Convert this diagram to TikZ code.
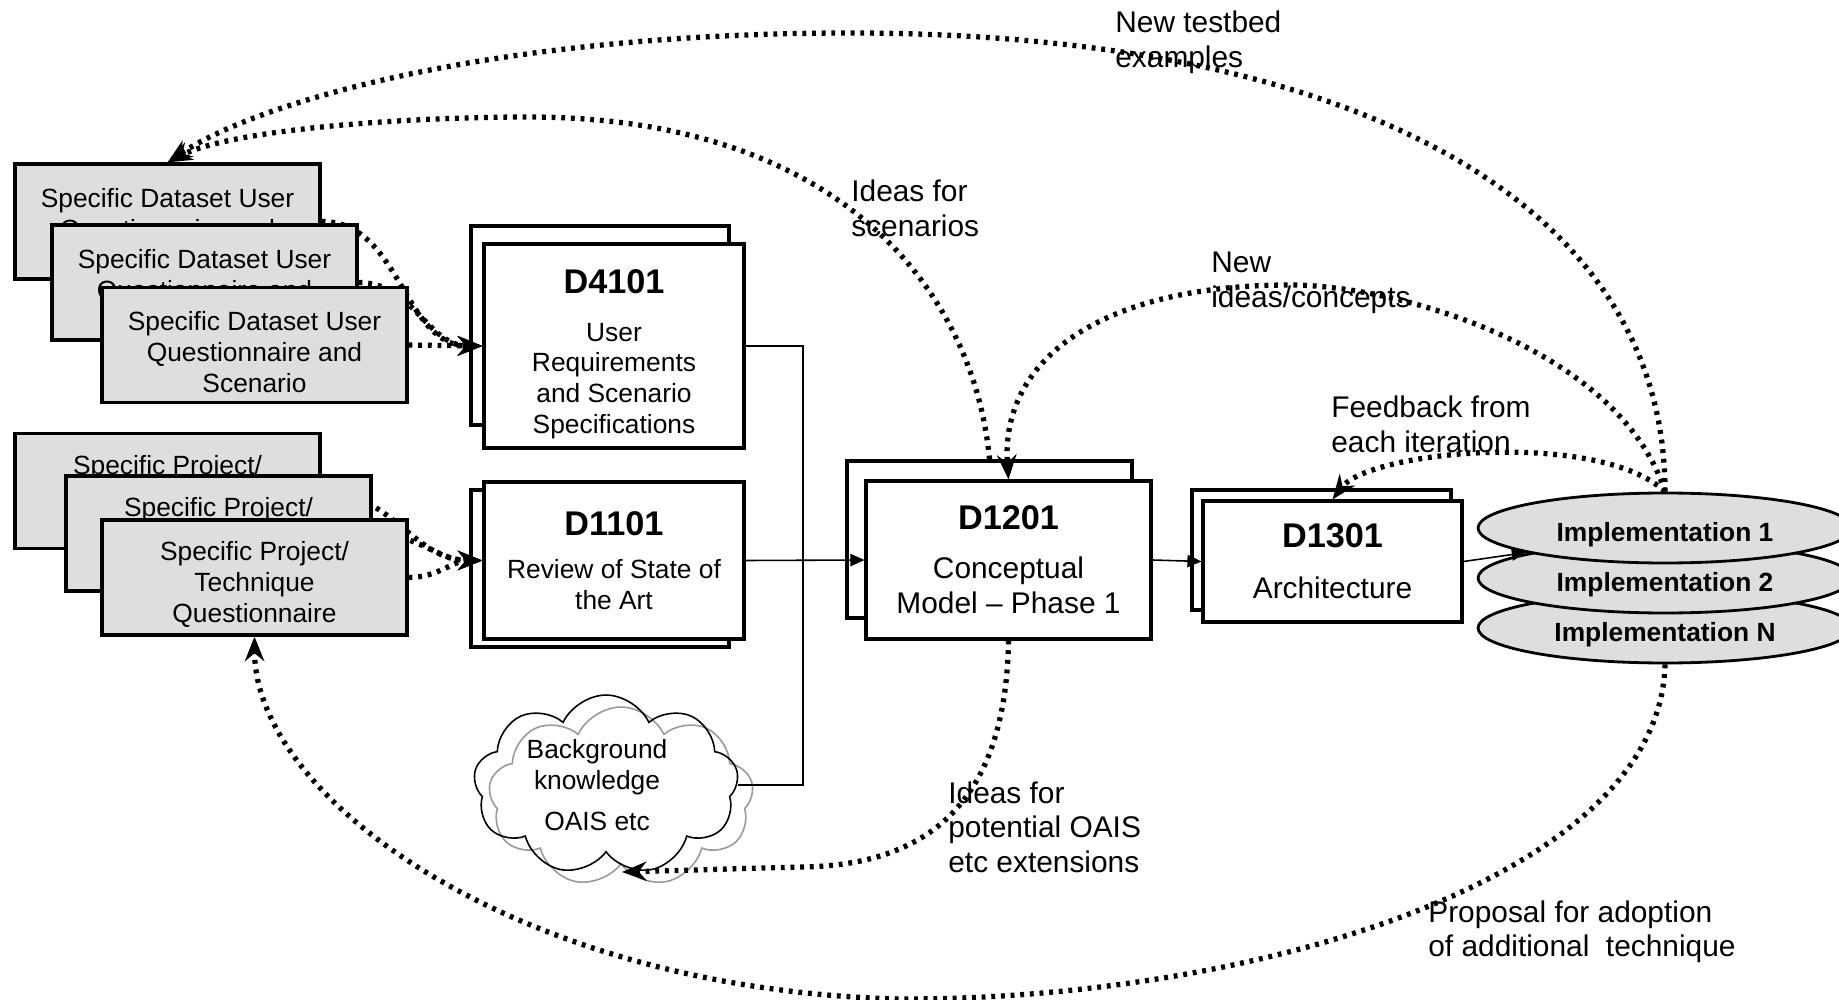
\documentclass[tikz,border=0pt]{standalone}
\usepackage{fontspec}
\setmainfont{Liberation Sans}
\usetikzlibrary{arrows.meta,shapes.geometric,shapes.symbols}

\definecolor{boxgray}{gray}{0.87}
\newcommand{\dtitle}[1]{{\fontsize{19.5}{22}\selectfont\bfseries #1}}
% tall invisible strut, pushes a node's text a little down
\newcommand{\topstrut}[1]{\rule{0pt}{#1}}

\tikzset{
  qbox/.style={draw, line width=1.8pt, fill=boxgray, minimum width=6.1cm, minimum height=2.3cm,
    inner sep=0pt, align=center, font=\fontsize{15}{17.5}\selectfont},
  dbox/.style={draw, line width=1.8pt, fill=white, inner sep=0pt, align=center,
    font=\fontsize{15}{17.5}\selectfont},
  impl/.style={ellipse, draw, line width=1.6pt, fill=boxgray, minimum width=7.48cm,
    minimum height=1.4cm, inner sep=0pt, font=\fontsize{15}{18}\selectfont\bfseries},
  puff/.style={cloud, cloud puffs=9, cloud puff arc=130, cloud ignores aspect, minimum width=5.3cm,
    minimum height=3.6cm, line width=0.9pt, inner sep=0pt},
  feed/.style={line width=3pt, dash pattern=on 2.2pt off 3.3pt, -{Stealth[length=14pt,width=11pt]}},
  link/.style={line width=0.9pt},
  flow/.style={link, -{Triangle[length=8pt,width=7pt]}},
  note/.style={anchor=north west, align=left, inner sep=0pt, font=\fontsize{17}{19.7}\selectfont}
}

\begin{document}
\begin{tikzpicture}[x=0.02cm, y=-0.02cm]
  \useasboundingbox (0,0) rectangle (1839,1000);

  % deliverables, each with a copy behind it
  \node[dbox, minimum width=5.16cm, minimum height=3.98cm] (d4101back) at (600,325.5) {};
  \node[dbox, minimum width=5.2cm, minimum height=4.08cm] (d4101) at (614,346)
    {\topstrut{23pt}\dtitle{D4101}\\[9.5pt]User\\Requirements\\and Scenario\\Specifications};
  \node[dbox, minimum width=5.16cm, minimum height=3.14cm] (d1101back) at (600,568.5) {};
  \node[dbox, minimum width=5.2cm, minimum height=3.14cm] (d1101) at (614,560.5)
    {\dtitle{D1101}\\[7pt]Review of State of\\the Art};
  \node[dbox, minimum width=5.7cm, minimum height=3.14cm] (d1201back) at (989.5,539.5) {};
  \node[dbox, minimum width=5.7cm, minimum height=3.16cm, font=\fontsize{17}{20}\selectfont] (d1201) at (1008.5,560)
    {\dtitle{D1201}\\[8pt]Conceptual\\Model -- Phase 1};
  \node[dbox, minimum width=5.18cm, minimum height=2.4cm] (d1301back) at (1321.5,550) {};
  \node[dbox, minimum width=5.18cm, minimum height=2.42cm, font=\fontsize{17}{20}\selectfont] (d1301) at (1332.5,561.5)
    {\dtitle{D1301}\\[9pt]Architecture};

  % questionnaire stacks: every box hides the feed of the one behind it
  \node[qbox] (ds1) at (167.5,221.5) {\topstrut{19pt}Specific Dataset User\\Questionnaire and\\Scenario};
  \draw[feed] (ds1.east) to[out=0,in=180] (d4101.west);
  \node[qbox] (ds2) at (204.5,282.5) {\topstrut{19pt}Specific Dataset User\\Questionnaire and\\Scenario};
  \draw[feed] (ds2.east) to[out=0,in=180] (d4101.west);
  \node[qbox] (ds3) at (254.5,345) {\topstrut{19pt}Specific Dataset User\\Questionnaire and\\Scenario};
  \draw[feed] (ds3.east) -- (d4101.west);

  \node[qbox] (pr1) at (167.5,491) {\topstrut{19pt}Specific Project/\\Technique\\Questionnaire};
  \draw[feed] (pr1.east) to[out=0,in=180] (d1101.west);
  \node[qbox] (pr2) at (218.5,533.5) {\topstrut{19pt}Specific Project/\\Technique\\Questionnaire};
  \draw[feed] (pr2.east) to[out=0,in=180] (d1101.west);
  \node[qbox] (pr3) at (254.5,577.5) {\topstrut{19pt}Specific Project/\\Technique\\Questionnaire};
  \draw[feed] (pr3.east) to[out=0,in=180] (d1101.west);

  % implementations, last one at the back
  \node[impl] (implN) at (1665,628) {\topstrut{19pt}Implementation N};
  \node[impl] (impl2) at (1665,578) {\topstrut{19pt}Implementation 2};
  \node[impl] (impl1) at (1665,528) {\topstrut{19pt}Implementation 1};

  % background knowledge cloud
  \node[puff, draw=gray!80] (bgshade) at (621,797) {};
  \node[puff, draw] (bg) at (606,785) {};
  \node[align=center, inner sep=0pt, font=\fontsize{15}{17.5}\selectfont] (bgtext) at (597,785)
    {Background\\knowledge\\[5.7pt]OAIS etc};

  % solid flow
  \coordinate (bus) at (803,0);
  \draw[link] (d4101.east) -| (bus |- bg.east) -- (bg.east);
  \draw[flow] (d1101.east) -- (d1201.west);
  \draw[flow] (d1201.east) -- (d1301.west);
  \draw[flow] (d1301.east) -- (impl1.190);

  % feedback loops
  \draw[feed] (d1201back.north) .. controls (975,300) and (850,117) .. (528,117)
    .. controls (400,117) and (230,130) .. (ds1.north);
  \draw[feed] (impl1.north) .. controls (1665,200) and (1350,33) .. (850,33)
    .. controls (500,33) and (260,100) .. (ds1.north);
  \draw[feed] (impl1.north) .. controls (1620,350) and (1400,285) .. (1290,285)
    .. controls (1100,285) and (1000,360) .. (d1201.north);
  \draw[feed] (impl1.north) .. controls (1600,430) and (1370,450) .. (d1301.north);
  \coordinate (oaisin) at (622,872);
  \draw[feed] (d1201.south) .. controls (1006,790) and (940,866) .. (800,867) -- (oaisin);
  \draw[feed] (implN.south) .. controls (1660,880) and (1250,1000) .. (900,999)
    .. controls (520,990) and (255,800) .. (pr3.south);

  % loop labels
  \node[note] (lbltestbed) at (1115,11) {New testbed\\examples};
  \node[note] (lblscen) at (851,180) {Ideas for\\scenarios};
  \node[note] (lblideas) at (1211,252) {New\\ideas/concepts};
  \node[note] (lblfeed) at (1331,396) {Feedback from\\each iteration};
  \node[note] (lbloais) at (948,781) {Ideas for\\potential OAIS\\etc extensions};
  \node[note] (lblprop) at (1428,900) {Proposal for adoption\\of additional\ \ technique};
\end{tikzpicture}
\end{document}
